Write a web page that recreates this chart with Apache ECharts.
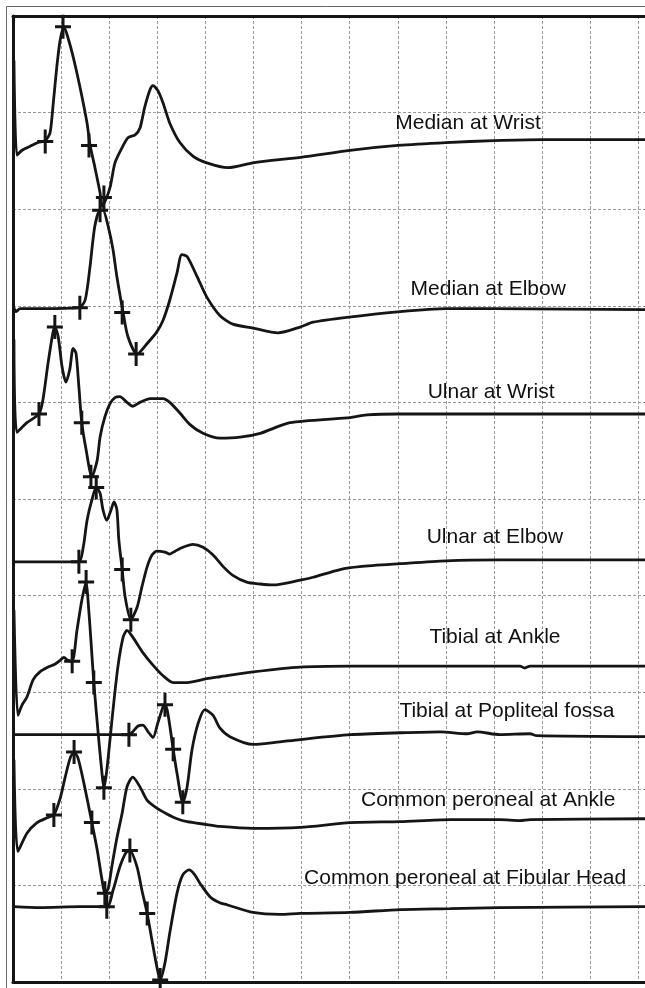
<!DOCTYPE html>
<html><head><meta charset="utf-8">
<script src="https://cdn.jsdelivr.net/npm/echarts@6/dist/echarts.min.js"></script>
<style>html,body{margin:0;padding:0;background:#fff}#c{width:645px;height:988px}</style>
</head><body><div id="c"></div>
<script>
// x in ms (1 ms per division), y in divisions (0 = bottom, 10 = top)
const traceNames = ["Median at Wrist","Median at Elbow","Ulnar at Wrist","Ulnar at Elbow","Tibial at Ankle","Tibial at Popliteal fossa","Common peroneal at Ankle","Common peroneal at Fibular Head"];

const t1x = [0.02,0.08,0.19,0.35,0.52,0.67,0.77,0.83,0.91,0.98,1.06,1.14,1.25,1.39,1.54,1.60,1.70,1.81,1.85,1.93,2.02,2.12,2.27,2.39,2.54,2.64,2.74,2.85,2.91,3.01,3.12,3.26,3.47,3.74,4.03,4.47,4.99,6.01,7.01,8.00,9.00,10.0,11.0,13.14];
const t1y = [9.54,8.56,8.61,8.65,8.69,8.71,8.79,9.06,9.47,9.75,9.89,9.78,9.58,9.27,8.89,8.67,8.44,8.17,8.03,8.10,8.23,8.48,8.64,8.74,8.77,8.84,9.06,9.24,9.28,9.23,9.10,8.89,8.69,8.55,8.48,8.43,8.48,8.54,8.61,8.66,8.69,8.71,8.72,8.72];

const t2x = [0.02,0.06,0.15,0.56,1.37,1.50,1.60,1.70,1.81,1.87,1.98,2.08,2.16,2.29,2.39,2.58,2.79,2.99,3.12,3.26,3.41,3.51,3.62,3.83,4.03,4.30,4.57,4.99,5.51,5.97,6.24,6.94,8.05,9.02,10.0,13.14];
const t2y = [6.98,6.94,6.97,6.97,6.98,7.06,7.40,7.82,7.99,7.99,7.82,7.58,7.30,6.93,6.68,6.50,6.61,6.73,6.85,7.06,7.34,7.53,7.51,7.30,7.09,6.90,6.81,6.77,6.72,6.78,6.83,6.88,6.94,6.97,6.97,6.96];

const t3x = [0.02,0.08,0.29,0.54,0.62,0.73,0.83,0.87,0.94,1.02,1.10,1.18,1.25,1.31,1.37,1.43,1.52,1.64,1.75,1.81,1.91,2.02,2.12,2.22,2.37,2.49,2.64,2.85,3.12,3.26,3.47,3.68,3.95,4.30,4.72,5.14,5.76,6.94,7.36,8.00,9.00,13.14];
const t3y = [6.65,5.69,5.79,5.88,6.02,6.41,6.72,6.78,6.68,6.37,6.21,6.34,6.56,6.51,6.16,5.79,5.51,5.23,5.40,5.64,5.85,5.99,6.05,6.06,6.00,5.96,6.00,6.04,6.04,6.00,5.89,5.77,5.68,5.63,5.64,5.68,5.79,5.84,5.87,5.88,5.88,5.88];

const t4x = [0.02,0.35,0.98,1.37,1.46,1.54,1.64,1.73,1.81,1.87,1.95,2.04,2.10,2.16,2.20,2.27,2.33,2.45,2.58,2.68,2.79,2.89,2.99,3.16,3.26,3.37,3.53,3.74,3.95,4.16,4.37,4.57,4.86,5.14,5.41,5.97,6.24,6.80,7.21,8.05,9.00,10.12,13.14];
const t4y = [4.35,4.35,4.35,4.35,4.50,4.78,4.99,5.12,5.06,4.89,4.78,4.89,4.97,4.89,4.58,4.27,3.99,3.75,3.88,4.09,4.30,4.42,4.46,4.45,4.43,4.46,4.50,4.53,4.50,4.42,4.30,4.21,4.14,4.12,4.11,4.16,4.19,4.27,4.30,4.33,4.36,4.37,4.37];

const t5x = [0.02,0.10,0.19,0.29,0.42,0.56,0.73,0.87,0.98,1.06,1.14,1.23,1.33,1.43,1.52,1.56,1.62,1.68,1.77,1.85,1.89,1.95,2.08,2.18,2.29,2.37,2.49,2.70,2.91,3.12,3.33,3.62,4.03,4.30,4.99,5.97,7.01,9.00,10.54,10.64,10.75,13.14];
const t5y = [3.85,2.76,2.87,2.95,3.13,3.21,3.26,3.29,3.33,3.36,3.33,3.32,3.64,3.95,4.14,3.95,3.54,3.10,2.58,2.16,2.01,2.19,2.82,3.26,3.57,3.64,3.57,3.41,3.28,3.17,3.10,3.10,3.14,3.16,3.21,3.26,3.27,3.27,3.27,3.25,3.27,3.27];

const t6x = [0.02,0.98,1.81,2.41,2.49,2.60,2.70,2.81,2.91,3.01,3.12,3.16,3.22,3.33,3.41,3.53,3.62,3.72,3.85,3.99,4.16,4.30,4.51,4.99,5.45,5.97,7.01,8.05,8.88,9.44,9.65,10.12,10.75,10.89,13.14];
const t6y = [2.56,2.56,2.56,2.56,2.59,2.65,2.66,2.59,2.53,2.68,2.85,2.87,2.78,2.41,2.16,1.86,2.02,2.40,2.68,2.82,2.76,2.63,2.54,2.46,2.48,2.51,2.56,2.58,2.59,2.57,2.59,2.56,2.57,2.55,2.54];

const t7x = [0.02,0.10,0.29,0.50,0.71,0.85,0.98,1.08,1.19,1.27,1.35,1.46,1.56,1.64,1.75,1.85,1.91,1.98,2.06,2.16,2.27,2.37,2.49,2.64,2.79,2.99,3.20,3.41,3.62,4.03,4.30,4.99,5.97,7.01,8.05,9.09,10.12,10.54,10.75,13.14];
const t7y = [2.30,1.35,1.54,1.65,1.70,1.73,1.90,2.11,2.32,2.38,2.32,2.09,1.85,1.65,1.37,1.06,0.92,0.97,1.21,1.49,1.75,2.02,2.12,2.02,1.88,1.80,1.74,1.69,1.66,1.63,1.61,1.59,1.60,1.65,1.66,1.68,1.68,1.67,1.68,1.69];

const t8x = [0.02,0.56,1.39,1.95,2.08,2.22,2.35,2.43,2.58,2.68,2.79,2.89,2.99,3.06,3.16,3.26,3.41,3.53,3.66,3.78,3.89,4.10,4.30,4.45,4.99,5.55,5.97,7.01,8.05,9.09,10.12,13.14];
const t8y = [0.78,0.77,0.78,0.78,0.95,1.19,1.34,1.36,1.19,0.95,0.71,0.43,0.16,0.02,0.20,0.51,0.92,1.11,1.16,1.11,1.02,0.88,0.82,0.80,0.72,0.70,0.71,0.72,0.75,0.76,0.77,0.78];

// latency cursors ("+")
const markerX = [0.67,1.04,1.58,1.89, 1.39,1.81,2.27,2.56, 0.54,0.87,1.43,1.62, 1.37,1.73,2.27,2.45, 1.23,1.52,1.68,1.89, 2.41,3.16,3.33,3.53, 0.85,1.27,1.64,1.91, 1.95,2.43,2.79,3.06];
const markerY = [8.70,9.89,8.66,8.12, 6.98,7.99,6.93,6.50, 5.88,6.78,5.79,5.23, 4.35,5.12,4.27,3.75, 3.32,4.14,3.10,2.01, 2.56,2.87,2.41,1.86, 1.73,2.38,1.65,0.92, 0.78,1.36,0.71,0.02];

// trace label anchors
const labelX = [9.46,9.88,9.94,10.02,10.02,10.27,9.88,9.40];
const labelY = [8.89,7.17,6.11,4.60,3.57,2.80,1.88,1.07];

const xsAll = [t1x,t2x,t3x,t4x,t5x,t6x,t7x,t8x];
const ysAll = [t1y,t2y,t3y,t4y,t5y,t6y,t7y,t8y];

const INK = '#151515';
const XMAX = 13.14;
const split = { show: true, lineStyle: { color: '#9a9a9a', width: 1, type: [3, 2] } };
const series = [];
traceNames.forEach((name, i) => {
  series.push({
    type: 'line', name: name,
    data: xsAll[i].map((x, k) => [x, ysAll[i][k]]),
    showSymbol: false, smooth: 0.25,
    lineStyle: { color: INK, width: 2.8 },
    z: 3, silent: true
  });
});
series.push({
  type: 'scatter', name: 'cursors',
  data: markerX.map((x, k) => [x, markerY[k]]),
  symbol: 'path://M6.5,0H9.5V24H6.5Z M0,10.5H16V13.5H0Z',
  symbolSize: [16, 24],
  itemStyle: { color: INK, opacity: 1 },
  z: 4, silent: true
});
series.push({
  type: 'scatter', name: 'labels',
  data: labelX.map((x, k) => ({ value: [x, labelY[k]], name: traceNames[k] })),
  symbolSize: 0,
  itemStyle: { opacity: 1 },
  label: {
    show: true, position: 'inside', formatter: p => p.name, opacity: 1,
    textBorderWidth: 0,
    fontFamily: 'Liberation Sans, Arial, sans-serif', fontSize: 21, color: '#111'
  },
  z: 5, silent: true
});

const chart = echarts.init(document.getElementById('c'), null, { renderer: 'canvas' });
chart.setOption({
  animation: false,
  backgroundColor: '#fff',
  grid: { left: 13, top: 16, right: 0, bottom: 6, show: false },
  xAxis: [{
    type: 'value', min: 0, max: XMAX, interval: 1, position: 'bottom',
    axisLine: { show: true, onZero: false, lineStyle: { color: INK, width: 3 } },
    axisTick: { show: false }, axisLabel: { show: false },
    splitLine: split
  }, {
    type: 'value', min: 0, max: XMAX, interval: 1, position: 'top',
    axisLine: { show: true, onZero: false, lineStyle: { color: INK, width: 3 } },
    axisTick: { show: false }, axisLabel: { show: false }, splitLine: { show: false }
  }],
  yAxis: {
    type: 'value', min: 0, max: 10, interval: 1, position: 'left',
    axisLine: { show: true, onZero: false, lineStyle: { color: INK, width: 3 } },
    axisTick: { show: false }, axisLabel: { show: false },
    splitLine: split
  },
  graphic: [{
    type: 'rect', silent: true, z: -1,
    shape: { x: 6.5, y: 6.5, width: 900, height: 1200 },
    style: { fill: 'none', stroke: '#666', lineWidth: 1 }
  }],
  series: series
});
</script>
</body></html>
